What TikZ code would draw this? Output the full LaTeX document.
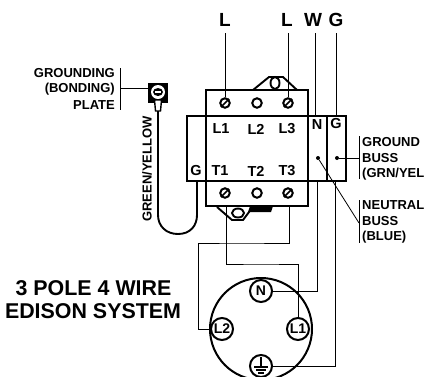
\documentclass[tikz,border=0pt]{standalone}
\usepackage{fontspec}
\setmainfont{Liberation Sans}
\usetikzlibrary{calc,positioning,shapes.geometric}
\tikzset{
    wire/.style={line width=0.8pt},
    heavy/.style={line width=1.9pt},
    lbl/.style={font=\bfseries\fontsize{13}{15}\selectfont, inner sep=0pt},
    bigl/.style={font=\bfseries\fontsize{19}{21}\selectfont, inner sep=0pt},
    termlbl/.style={font=\bfseries\fontsize{14.5}{16}\selectfont, inner sep=0pt},
    titl/.style={font=\bfseries\fontsize{21.4}{24}\selectfont, inner sep=0pt},
    screw/.style={circle, draw, line width=2pt, minimum size=9.5pt, inner sep=0pt, fill=white},
    pin/.style={circle, draw, line width=2pt, minimum size=22pt, inner sep=0pt, fill=white, font=\bfseries\fontsize{14}{15}\selectfont},
    dotn/.style={circle, fill, minimum size=4pt, inner sep=0pt},
}
\begin{document}
\begin{tikzpicture}[x=1pt,y=-1pt]
    \useasboundingbox (0,0) rectangle (425,376);
    % wires under the body
    \coordinate (jogA) at (260,264);
    \coordinate (jogB) at (240,243);
    \coordinate (tabA) at (226,207);
    \coordinate (tabC) at (289,207);
    \coordinate (busN) at (317,181);
    \coordinate (busG) at (335,181);
    \coordinate (farB) at (198,329);
    % mounting tabs
    \draw[heavy] (253,90) -- (269,77) -- (283,77) -- (297,90);
    \draw[heavy] (217,207) -- (232,220) -- (243,220) -- (252,208);
    \fill (250,206) -- (273,206) -- (271,212) -- (248,212) -- cycle;
    % contactor body
    \draw[heavy] (206,90) rectangle (308,206);
    \draw[heavy] (187,116) rectangle (346,181);
    \draw[heavy] (327,116) -- (327,181);
    \node[ellipse, draw, line width=1.9pt, minimum width=9pt, minimum height=12pt, inner sep=0pt, fill=white] (ringtop) at (275,83) {};
    \node[ellipse, draw, line width=1.9pt, minimum width=12pt, minimum height=9pt, inner sep=0pt, fill=white] (ringbot) at (238,213) {};
    % screws
    \foreach \x/\n in {225/a,257/b,288/c} {
        \node[screw] (top\n) at (\x,103) {};
        \node[screw] (bot\n) at (\x,193) {};
    }
    \foreach \n in {topa,topc,bota,botc} {
        \draw[line width=1.6pt] (\n.south west) -- (\n.north east);
    }
    % terminal labels
    \foreach \x/\y/\t in {221/129/L1,256/129/L2,287/129/L3,220/171/T1,256/171/T2,287/171/T3,196/171/G,317/125/N,336/124/G} {
        \node[termlbl] (lab\t\x) at (\x,\y) {\t};
    }
    % supply labels
    \node[bigl] (supa) at (225,20) {L};
    \node[bigl] (supb) at (287,20) {L};
    \node[bigl] (supw) at (313,20) {W};
    \node[bigl] (supg) at (336,20) {G};
    \coordinate (wtop) at (0,33);
    \coordinate (nin) at (315,116);
    \coordinate (gin) at (336,116);
    \draw[wire] (topa |- wtop) -- (topa);
    \draw[wire] (topc |- wtop) -- (topc);
    \draw[wire] (nin |- wtop) -- (nin);
    \draw[wire] (gin |- wtop) -- (gin);
    % buss dots and leaders
    \node[dotn] (dotN) at (318,158) {};
    \node[dotn] (dotG) at (337,158) {};
    \coordinate (barG) at (359,158);
    \coordinate (barN) at (359,223);
    \draw[wire] (dotG) -- (barG);
    \draw[wire] (dotN) -- (barN);
    \draw[wire] (359,136) -- (359,179);
    \draw[wire] (359,200) -- (359,243);
    \foreach \y/\t/\n in {142/GROUND/ga,158/BUSS/gb,174/{(GRN/YEL}/gc,205/NEUTRAL/na,221/BUSS/nb,237/(BLUE)/nc} {
        \node[lbl, anchor=west] (t\n) at (362,\y) {\t};
    }
    % grounding plate
    \foreach \y/\t/\n in {73/GROUNDING/pa,89/(BONDING)/pb,105/PLATE/pc} {
        \node[lbl, anchor=east] (t\n) at (115,\y) {\t};
    }
    \draw[wire] (120,68) -- (120,110);
    \coordinate (barP) at (120,88);
    \node[fill, minimum size=20pt, inner sep=0pt] (plate) at (158,92.5) {};
    \node[fill=white, circle, minimum size=14pt, inner sep=0pt] (hole) at (158,92) {};
    \node[fill, ellipse, minimum width=10pt, minimum height=8pt, inner sep=0pt] (bolt) at (158,92) {};
    \draw[white, line width=1.2pt] (155,92) -- (161,92);
    \draw[wire] (barP) -- (plate.west |- barP);
    \draw[line width=1.4pt, fill=white] (154.5,100) -- (161.5,100) -- (160.5,111) -- (155.5,111) -- cycle;
    \coordinate (gndwire) at (158,111);
    \coordinate (bodyG) at (197,181);
    \draw[heavy] (gndwire) -- (158,215) .. controls (158,226) and (166,234) .. (178,234) .. controls (190,234) and (197,226) .. (197,215) -- (bodyG);
    \node[lbl, rotate=90] (gy) at (147,169) {GREEN/YELLOW};
    % title
    \node[titl] (tita) at (93.5,288) {3 POLE 4 WIRE};
    \node[titl] (titb) at (93,311) {EDISON SYSTEM};
    % receptacle
    \node[circle, draw, line width=2pt, minimum size=102pt, inner sep=0pt] (recept) at (261,329) {};
    \node[pin] (pinN) at (261,291) {N};
    \node[pin] (pinLb) at (222,329) {L2};
    \node[pin] (pinLa) at (298,329) {L1};
    \node[pin] (pinG) at (261,366) {};
    \draw[line width=1.2pt] (261,357) -- (261,367);
    \draw[line width=1.2pt] (254,367) -- (268,367);
    \draw[line width=1.2pt] (256,370) -- (266,370);
    \draw[line width=1.2pt] (258,373) -- (264,373);
    % wires to receptacle
    \draw[wire] (tabA) |- (jogA) -| (pinLa.north);
    \draw[wire] (tabC) |- (jogB) -| (farB) -- (pinLb.west);
    \draw[wire] (busN) |- (pinN.east);
    \draw[wire] (busG) |- (pinG.east);
\end{tikzpicture}
\end{document}
